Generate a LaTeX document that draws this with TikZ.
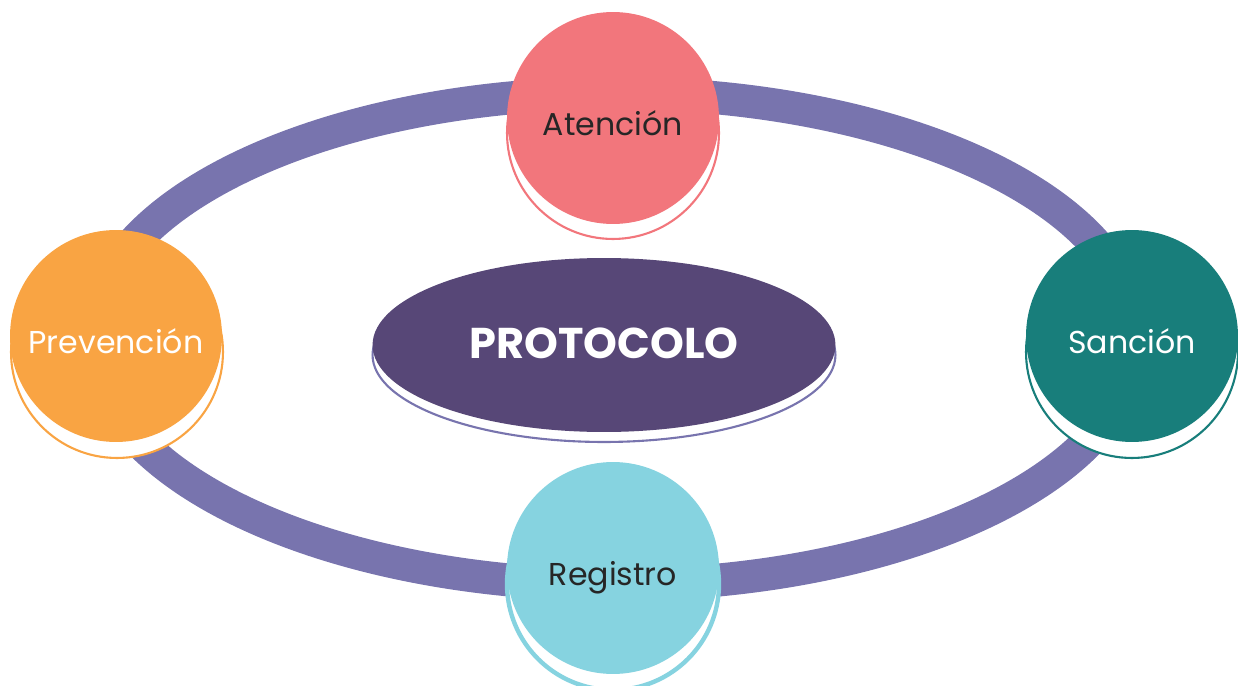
\documentclass[tikz,border=0pt]{standalone}
\usepackage{fontspec}
\setmainfont{Poppins}
\usepackage{tikz}
\usetikzlibrary{positioning,shapes.geometric}

\definecolor{ringcol}{HTML}{7874AE}
\definecolor{protocol}{HTML}{574777}
\definecolor{atencion}{HTML}{F2767C}
\definecolor{prevencion}{HTML}{F9A443}
\definecolor{sancion}{HTML}{187E7B}
\definecolor{registro}{HTML}{86D3E0}
\definecolor{darktext}{HTML}{262626}

\begin{document}
\begin{tikzpicture}[x=0.02cm, y=-0.02cm,
	stage/.style={circle, minimum size=4.24cm, inner sep=0pt, text height=20pt, text depth=0pt,
		font=\fontsize{18}{20}\selectfont},
	rim/.style={circle, minimum size=4.24cm, inner sep=0pt, fill=white, line width=1.2pt}]

	\useasboundingbox (0,0) rectangle (1238,686);

	% Ring
	\draw[ringcol, line width=0.66cm] (614,339) ellipse [x radius=10.44cm, y radius=4.92cm];

	% Centre
	\node[ellipse, minimum width=9.26cm, minimum height=3.48cm, draw=ringcol, line width=1.2pt, fill=white] (protocolrim) at (604,355) {};
	\node[ellipse, minimum width=9.26cm, minimum height=3.48cm, fill=protocol, text=white,
		font=\fontsize{24.5}{26}\selectfont\bfseries] (protocolo) at (604,345) {\raisebox{0.15ex}{PROTOCOLO}};

	% Stages
	\node[rim, draw=atencion] (atencionrim) at (613,133) {};
	\node[stage, fill=atencion, text=darktext] (atencion) at (613,118) {Atención};

	\node[rim, draw=prevencion] (prevencionrim) at (117,352) {};
	\node[stage, fill=prevencion, text=white] (prevencion) at (116,336) {Prevención};

	\node[rim, draw=sancion] (sancionrim) at (1132,352) {};
	\node[stage, fill=sancion, text=white] (sancion) at (1132,336) {Sanción};

	\node[rim, draw=registro, line width=2.5pt] (registrorim) at (613,584) {};
	\node[stage, fill=registro, text=darktext] (registro) at (613,568) {Registro};
\end{tikzpicture}
\end{document}
